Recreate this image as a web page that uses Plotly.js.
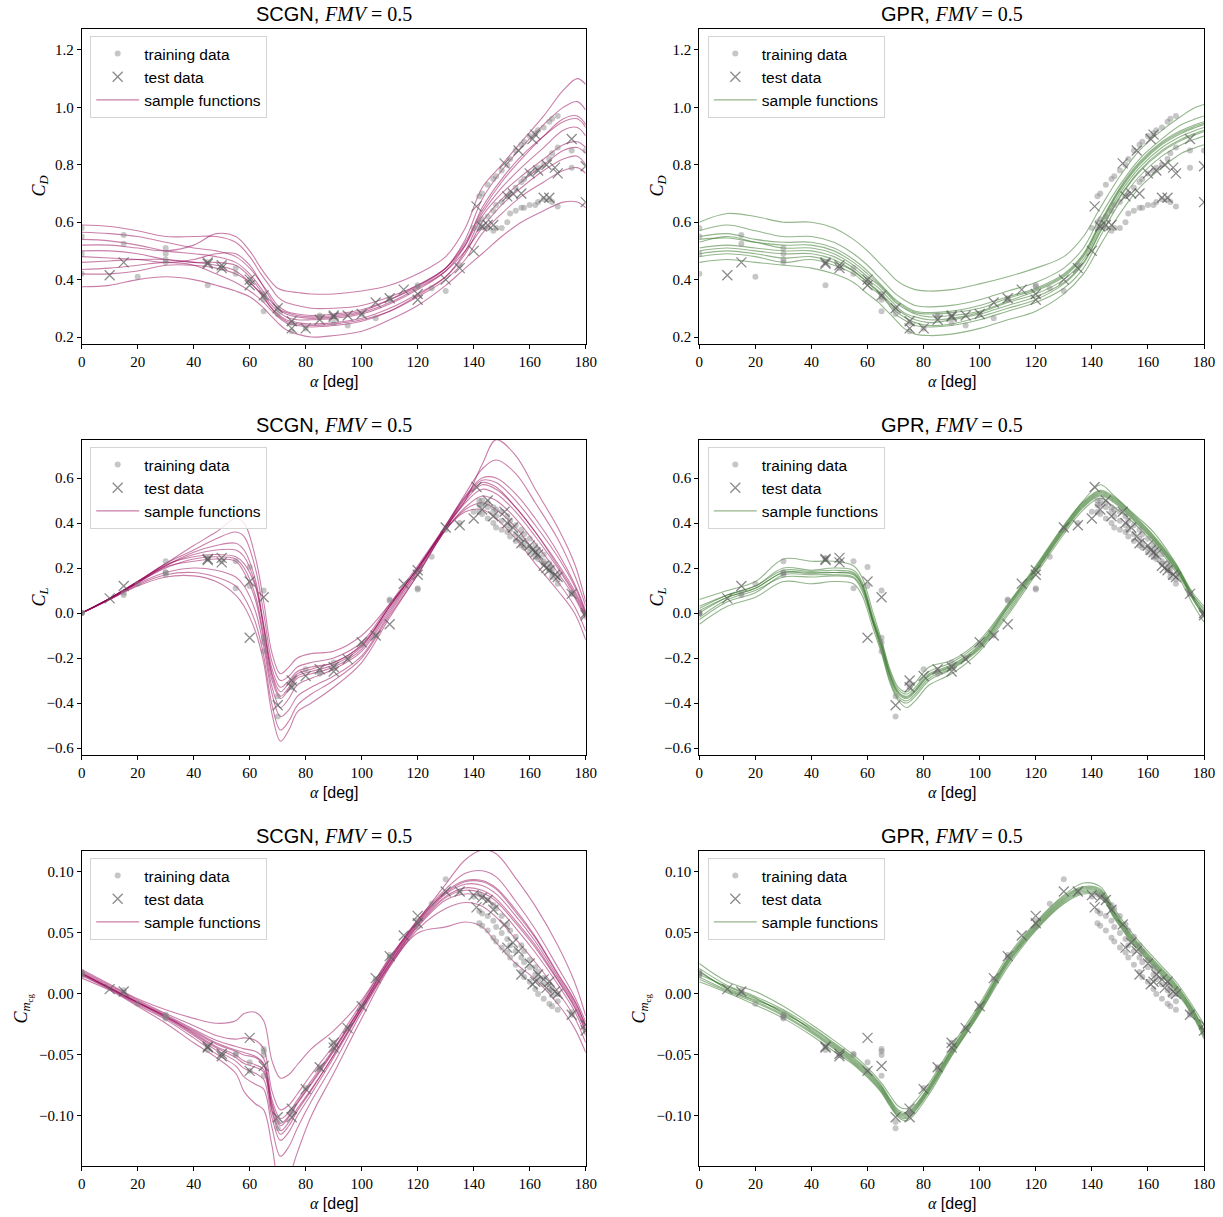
<!DOCTYPE html>
<html><head><meta charset="utf-8">
<script src="https://cdn.plot.ly/plotly-3.0.1.min.js"></script>
<style>html,body{margin:0;padding:0;background:#fff}</style>
</head><body><div id="chart" style="width:1223px;height:1217px"></div>
<script>
// ---------------- data ----------------
const xTicks = [0,20,40,60,80,100,120,140,160,180];

// training data (low / mid alpha)
const lowAlpha = [0,0,0,0,15,15,20,30,30,30,30,45,45,50,55,55,60,60,65,65,65,65,70,70,75,75,80,85,85,90,90,95,100,105,110,110,120,120,125,130,135,140,175,175,180];
const lowCD = [0.58,0.55,0.49,0.42,0.555,0.525,0.41,0.51,0.49,0.47,0.46,0.38,0.46,0.44,0.42,0.44,0.40,0.39,0.29,0.34,0.35,0.33,0.28,0.30,0.22,0.25,0.23,0.275,0.27,0.25,0.27,0.24,0.28,0.265,0.33,0.335,0.38,0.375,0.37,0.36,0.45,0.58,0.79,0.85,0.85];
const lowCL = [0,0,0,0,0.08,0.09,0.13,0.23,0.17,0.18,0.18,0.245,0.24,0.23,0.23,0.11,0.205,0.12,0.10,-0.11,-0.13,-0.17,-0.37,-0.46,-0.31,-0.33,-0.25,-0.26,-0.27,-0.22,-0.24,-0.20,-0.14,-0.10,0.06,0.055,0.11,0.105,0.25,0.37,0.40,0.45,0.085,0.09,0.0];
const lowCm = [0.018,0.016,0.017,0.015,0.003,0.001,-0.008,-0.018,-0.020,-0.017,-0.019,-0.046,-0.043,-0.050,-0.049,-0.050,-0.056,-0.063,-0.045,-0.047,-0.050,-0.067,-0.105,-0.110,-0.098,-0.096,-0.077,-0.060,-0.062,-0.046,-0.040,-0.028,-0.010,0.012,0.032,0.030,0.060,0.055,0.074,0.094,0.084,0.080,-0.017,-0.015,-0.030];

// training data (dense high-alpha sweeps, three series)
const denseAlpha = [142,143,145,147,148,150,152,153,155,157,158,160,162,163,165,167,168,170];
const denseCD_A = [0.69,0.70,0.73,0.75,0.76,0.78,0.80,0.82,0.85,0.87,0.88,0.90,0.91,0.92,0.93,0.95,0.96,0.97];
const denseCD_B = [0.60,0.61,0.62,0.64,0.66,0.67,0.69,0.70,0.72,0.74,0.75,0.77,0.78,0.79,0.80,0.82,0.84,0.86];
const denseCD_C = [0.58,0.585,0.58,0.57,0.58,0.58,0.60,0.63,0.64,0.65,0.65,0.66,0.66,0.67,0.68,0.68,0.67,0.655];
const denseCL_A = [0.50,0.50,0.49,0.47,0.46,0.45,0.43,0.41,0.39,0.37,0.35,0.33,0.30,0.28,0.26,0.22,0.20,0.17];
const denseCL_B = [0.48,0.48,0.47,0.45,0.43,0.41,0.39,0.37,0.35,0.33,0.31,0.29,0.27,0.25,0.23,0.20,0.18,0.15];
const denseCL_C = [0.45,0.44,0.42,0.40,0.38,0.37,0.36,0.34,0.32,0.30,0.29,0.27,0.25,0.24,0.22,0.19,0.16,0.13];
const denseCm_A = [0.082,0.080,0.077,0.073,0.070,0.064,0.057,0.052,0.047,0.040,0.035,0.028,0.022,0.018,0.013,0.008,0.004,0.000];
const denseCm_B = [0.068,0.066,0.064,0.060,0.055,0.050,0.045,0.040,0.035,0.030,0.026,0.022,0.016,0.012,0.008,0.003,-0.001,-0.006];
const denseCm_C = [0.058,0.056,0.052,0.046,0.043,0.038,0.034,0.030,0.024,0.018,0.014,0.010,0.004,0.000,-0.004,-0.008,-0.010,-0.013];

// test data
const testAlpha = [10,15,45,45,50,50,60,60,65,70,75,75,80,85,90,90,95,100,105,110,115,120,120,130,135,140,141,143,145,147,151,152,154,156,157,160,161,162,163,165,166,167,169,170,175,180,180];
const testCD = [0.415,0.46,0.46,0.455,0.45,0.44,0.40,0.38,0.345,0.30,0.255,0.23,0.23,0.26,0.275,0.27,0.275,0.28,0.32,0.335,0.365,0.35,0.33,0.40,0.44,0.50,0.655,0.585,0.59,0.59,0.805,0.69,0.70,0.85,0.70,0.77,0.89,0.905,0.78,0.685,0.80,0.685,0.79,0.77,0.89,0.67,0.795];
const testCL = [0.065,0.12,0.24,0.235,0.245,0.225,0.14,-0.11,0.07,-0.41,-0.30,-0.33,-0.28,-0.25,-0.24,-0.26,-0.205,-0.13,-0.10,-0.05,0.13,0.19,0.17,0.38,0.39,0.42,0.56,0.46,0.50,0.43,0.45,0.40,0.38,0.34,0.31,0.30,0.28,0.27,0.26,0.21,0.20,0.19,0.17,0.16,0.085,0.00,-0.01];
const testCm = [0.004,0.002,-0.043,-0.044,-0.049,-0.051,-0.036,-0.063,-0.059,-0.101,-0.094,-0.101,-0.078,-0.060,-0.040,-0.044,-0.028,-0.010,0.013,0.031,0.048,0.064,0.058,0.084,0.084,0.081,0.071,0.079,0.077,0.069,0.057,0.038,0.042,0.035,0.016,0.025,0.008,0.010,0.016,0.012,0.005,0.010,0.002,0.000,-0.017,-0.025,-0.030];

// sample-function grids
const gridCD = [0,10,20,30,40,48,55,60,64,67,70,73,77,82,90,100,110,120,130,137,143,150,157,165,172,177,180];
const gridCL = [0,10,20,30,40,48,55,58,62,65,68,71,74,77,82,90,100,110,120,130,137,143,148,155,162,170,176,180];
const gridCm = gridCL;

// SCGN sample functions, C_D
const scgnCD = [
[0.59,0.585,0.57,0.55,0.55,0.55,0.53,0.48,0.42,0.38,0.34,0.32,0.31,0.30,0.30,0.31,0.34,0.38,0.44,0.53,0.64,0.74,0.82,0.90,0.96,0.97,0.94],
[0.375,0.38,0.40,0.41,0.40,0.38,0.36,0.34,0.31,0.28,0.25,0.225,0.21,0.20,0.205,0.22,0.26,0.31,0.38,0.44,0.49,0.55,0.60,0.64,0.67,0.67,0.65],
[0.52,0.52,0.51,0.50,0.52,0.56,0.55,0.50,0.44,0.40,0.37,0.36,0.355,0.35,0.35,0.36,0.38,0.42,0.48,0.58,0.72,0.80,0.88,0.97,1.06,1.10,1.08],
[0.46,0.465,0.47,0.47,0.46,0.45,0.43,0.39,0.35,0.31,0.28,0.26,0.25,0.245,0.25,0.265,0.30,0.35,0.41,0.49,0.60,0.68,0.74,0.80,0.85,0.86,0.84],
[0.54,0.535,0.52,0.50,0.49,0.48,0.46,0.42,0.37,0.33,0.30,0.285,0.275,0.27,0.275,0.29,0.33,0.38,0.44,0.52,0.63,0.72,0.79,0.86,0.92,0.93,0.90],
[0.42,0.42,0.43,0.45,0.45,0.44,0.42,0.39,0.35,0.31,0.275,0.255,0.245,0.24,0.245,0.26,0.29,0.34,0.40,0.47,0.56,0.63,0.69,0.74,0.78,0.79,0.77],
[0.50,0.50,0.49,0.47,0.46,0.46,0.45,0.41,0.36,0.32,0.29,0.27,0.26,0.26,0.265,0.28,0.315,0.365,0.43,0.52,0.65,0.75,0.83,0.90,0.95,0.96,0.93],
[0.565,0.56,0.55,0.53,0.51,0.50,0.48,0.44,0.39,0.35,0.31,0.29,0.28,0.275,0.28,0.295,0.33,0.375,0.44,0.54,0.68,0.78,0.86,0.94,1.00,1.02,0.99],
[0.48,0.475,0.47,0.46,0.47,0.49,0.49,0.45,0.39,0.34,0.30,0.28,0.27,0.265,0.27,0.285,0.32,0.37,0.43,0.50,0.58,0.66,0.72,0.78,0.82,0.83,0.80],
[0.435,0.44,0.45,0.46,0.45,0.42,0.39,0.36,0.33,0.30,0.27,0.25,0.24,0.235,0.24,0.255,0.29,0.345,0.41,0.50,0.62,0.70,0.76,0.82,0.87,0.88,0.86]
];
// GPR sample functions, C_D
const gprCD = [
[0.60,0.63,0.62,0.60,0.60,0.58,0.54,0.50,0.46,0.43,0.40,0.38,0.365,0.36,0.365,0.385,0.41,0.44,0.48,0.55,0.65,0.76,0.85,0.92,0.97,1.00,1.01],
[0.46,0.47,0.46,0.45,0.44,0.42,0.39,0.35,0.32,0.29,0.26,0.23,0.21,0.205,0.21,0.23,0.26,0.29,0.35,0.42,0.52,0.63,0.72,0.79,0.84,0.86,0.87],
[0.55,0.56,0.54,0.53,0.53,0.51,0.47,0.43,0.39,0.36,0.33,0.31,0.29,0.285,0.29,0.31,0.34,0.37,0.42,0.49,0.60,0.72,0.81,0.88,0.92,0.94,0.95],
[0.50,0.51,0.50,0.49,0.49,0.47,0.43,0.39,0.36,0.33,0.30,0.28,0.26,0.25,0.26,0.28,0.31,0.34,0.39,0.46,0.57,0.69,0.78,0.85,0.89,0.91,0.92],
[0.53,0.55,0.53,0.51,0.51,0.49,0.45,0.41,0.38,0.35,0.32,0.30,0.28,0.27,0.275,0.29,0.325,0.36,0.41,0.48,0.59,0.71,0.80,0.87,0.91,0.93,0.94],
[0.48,0.49,0.48,0.46,0.47,0.45,0.42,0.38,0.35,0.32,0.28,0.26,0.24,0.235,0.24,0.26,0.29,0.32,0.37,0.44,0.55,0.67,0.76,0.83,0.87,0.89,0.90],
[0.57,0.59,0.57,0.55,0.55,0.53,0.49,0.45,0.41,0.38,0.35,0.33,0.31,0.305,0.31,0.33,0.36,0.39,0.44,0.51,0.62,0.73,0.82,0.89,0.94,0.96,0.97],
[0.51,0.52,0.51,0.50,0.50,0.48,0.44,0.40,0.37,0.34,0.31,0.285,0.27,0.26,0.265,0.285,0.32,0.35,0.40,0.47,0.58,0.70,0.79,0.86,0.90,0.92,0.93],
[0.49,0.50,0.49,0.475,0.48,0.46,0.43,0.39,0.355,0.325,0.29,0.27,0.25,0.24,0.245,0.27,0.30,0.33,0.385,0.455,0.565,0.685,0.775,0.845,0.885,0.905,0.915],
[0.54,0.545,0.53,0.52,0.52,0.50,0.46,0.42,0.385,0.355,0.325,0.305,0.285,0.28,0.285,0.30,0.335,0.365,0.415,0.485,0.595,0.715,0.805,0.875,0.915,0.935,0.945]
];
// SCGN sample functions, C_L
const scgnCL = [
[0,0.065,0.14,0.22,0.30,0.36,0.42,0.40,0.25,0.05,-0.18,-0.27,-0.24,-0.20,-0.18,-0.17,-0.10,0.04,0.20,0.38,0.50,0.66,0.77,0.70,0.55,0.38,0.22,0.05],
[0,0.06,0.12,0.16,0.165,0.14,0.08,0.03,-0.08,-0.22,-0.45,-0.57,-0.52,-0.44,-0.40,-0.33,-0.22,-0.02,0.17,0.37,0.45,0.46,0.42,0.33,0.22,0.10,0.00,-0.12],
[0,0.065,0.135,0.20,0.24,0.25,0.24,0.20,0.08,-0.10,-0.30,-0.38,-0.34,-0.29,-0.27,-0.24,-0.16,0.02,0.19,0.38,0.50,0.57,0.55,0.47,0.36,0.22,0.10,0.0],
[0,0.065,0.135,0.21,0.27,0.30,0.31,0.28,0.15,-0.05,-0.25,-0.33,-0.30,-0.26,-0.24,-0.22,-0.14,0.03,0.20,0.39,0.52,0.60,0.60,0.53,0.42,0.27,0.13,0.01],
[0,0.06,0.13,0.18,0.20,0.19,0.16,0.12,0.01,-0.15,-0.36,-0.46,-0.43,-0.37,-0.33,-0.28,-0.19,0.0,0.18,0.37,0.47,0.52,0.50,0.42,0.31,0.18,0.07,-0.03],
[0,0.065,0.14,0.215,0.25,0.26,0.25,0.22,0.12,-0.07,-0.28,-0.37,-0.33,-0.28,-0.26,-0.23,-0.15,0.03,0.20,0.38,0.51,0.58,0.56,0.47,0.36,0.21,0.09,-0.01],
[0,0.065,0.14,0.22,0.28,0.33,0.36,0.34,0.20,0.0,-0.22,-0.30,-0.28,-0.24,-0.22,-0.20,-0.13,0.04,0.21,0.39,0.53,0.64,0.68,0.62,0.49,0.33,0.17,0.03],
[0,0.06,0.125,0.17,0.18,0.16,0.12,0.07,-0.04,-0.19,-0.41,-0.52,-0.48,-0.41,-0.36,-0.30,-0.20,-0.01,0.17,0.37,0.46,0.49,0.46,0.38,0.27,0.14,0.03,-0.08],
[0,0.065,0.135,0.205,0.23,0.24,0.23,0.18,0.06,-0.12,-0.33,-0.42,-0.38,-0.32,-0.29,-0.25,-0.17,0.01,0.19,0.38,0.49,0.55,0.53,0.45,0.34,0.20,0.08,-0.02],
[0,0.065,0.14,0.21,0.26,0.28,0.28,0.25,0.13,-0.06,-0.27,-0.35,-0.31,-0.27,-0.25,-0.22,-0.145,0.03,0.20,0.385,0.515,0.59,0.58,0.50,0.39,0.25,0.12,0.0]
];
// GPR sample functions, C_L
const gprCL = [
[0.06,0.10,0.14,0.24,0.23,0.23,0.21,0.16,0.0,-0.12,-0.25,-0.33,-0.35,-0.31,-0.24,-0.21,-0.12,0.04,0.21,0.39,0.50,0.57,0.52,0.44,0.36,0.22,0.09,0.03],
[-0.05,0.03,0.07,0.14,0.13,0.14,0.13,0.08,-0.07,-0.18,-0.31,-0.39,-0.42,-0.39,-0.32,-0.27,-0.17,-0.01,0.17,0.35,0.46,0.51,0.47,0.40,0.31,0.18,0.04,-0.04],
[0.0,0.07,0.11,0.18,0.18,0.18,0.17,0.12,-0.04,-0.15,-0.28,-0.36,-0.38,-0.35,-0.28,-0.24,-0.15,0.02,0.19,0.37,0.48,0.53,0.50,0.42,0.33,0.20,0.07,0.0],
[0.02,0.08,0.12,0.19,0.185,0.19,0.18,0.13,-0.03,-0.14,-0.27,-0.35,-0.37,-0.34,-0.27,-0.23,-0.14,0.03,0.20,0.38,0.49,0.54,0.51,0.43,0.34,0.21,0.08,0.01],
[-0.02,0.06,0.10,0.16,0.16,0.165,0.155,0.10,-0.05,-0.17,-0.30,-0.38,-0.40,-0.37,-0.30,-0.25,-0.16,0.0,0.18,0.36,0.47,0.52,0.49,0.41,0.32,0.19,0.06,-0.01],
[0.03,0.08,0.12,0.20,0.19,0.20,0.19,0.14,-0.02,-0.13,-0.26,-0.34,-0.36,-0.33,-0.26,-0.22,-0.13,0.035,0.205,0.385,0.495,0.545,0.515,0.435,0.345,0.215,0.08,0.02],
[-0.03,0.05,0.09,0.17,0.17,0.17,0.16,0.11,-0.045,-0.16,-0.29,-0.37,-0.39,-0.36,-0.29,-0.245,-0.155,0.01,0.185,0.365,0.475,0.525,0.495,0.415,0.325,0.195,0.065,-0.02],
[0.01,0.07,0.11,0.18,0.175,0.18,0.175,0.125,-0.035,-0.145,-0.275,-0.355,-0.375,-0.345,-0.275,-0.235,-0.145,0.025,0.195,0.375,0.485,0.535,0.505,0.425,0.335,0.205,0.07,0.0]
];
// SCGN sample functions, C_m,cg
const scgnCm = [
[0.020,0.008,-0.004,-0.013,-0.020,-0.024,-0.022,-0.016,-0.015,-0.022,-0.055,-0.069,-0.066,-0.058,-0.045,-0.030,-0.005,0.030,0.060,0.090,0.110,0.118,0.115,0.095,0.072,0.040,0.010,-0.018],
[0.013,0.003,-0.010,-0.024,-0.040,-0.052,-0.065,-0.080,-0.090,-0.095,-0.125,-0.16,-0.15,-0.13,-0.10,-0.065,-0.02,0.022,0.050,0.055,0.059,0.055,0.042,0.025,0.012,-0.008,-0.028,-0.048],
[0.017,0.005,-0.007,-0.018,-0.032,-0.043,-0.050,-0.055,-0.058,-0.062,-0.095,-0.112,-0.105,-0.094,-0.078,-0.050,-0.012,0.025,0.057,0.080,0.087,0.085,0.078,0.060,0.040,0.012,-0.010,-0.030],
[0.018,0.006,-0.006,-0.017,-0.029,-0.038,-0.043,-0.045,-0.047,-0.053,-0.087,-0.102,-0.097,-0.087,-0.071,-0.045,-0.009,0.028,0.060,0.083,0.092,0.092,0.086,0.067,0.046,0.016,-0.006,-0.026],
[0.016,0.004,-0.008,-0.020,-0.034,-0.046,-0.055,-0.061,-0.065,-0.070,-0.102,-0.120,-0.113,-0.100,-0.082,-0.052,-0.013,0.024,0.055,0.077,0.082,0.080,0.072,0.054,0.034,0.008,-0.014,-0.034],
[0.017,0.005,-0.007,-0.019,-0.031,-0.041,-0.047,-0.050,-0.052,-0.058,-0.092,-0.108,-0.101,-0.090,-0.074,-0.047,-0.010,0.027,0.058,0.082,0.090,0.089,0.082,0.064,0.043,0.014,-0.008,-0.028],
[0.019,0.007,-0.005,-0.016,-0.026,-0.034,-0.037,-0.036,-0.038,-0.045,-0.080,-0.095,-0.091,-0.082,-0.066,-0.042,-0.007,0.029,0.061,0.086,0.099,0.101,0.096,0.076,0.053,0.022,-0.002,-0.023],
[0.015,0.004,-0.009,-0.021,-0.036,-0.049,-0.059,-0.068,-0.074,-0.078,-0.110,-0.133,-0.125,-0.110,-0.088,-0.057,-0.015,0.023,0.053,0.070,0.075,0.072,0.063,0.045,0.026,0.002,-0.019,-0.040],
[0.017,0.005,-0.007,-0.018,-0.030,-0.040,-0.046,-0.048,-0.051,-0.057,-0.090,-0.106,-0.100,-0.089,-0.073,-0.046,-0.010,0.027,0.059,0.084,0.093,0.093,0.087,0.069,0.047,0.017,-0.005,-0.026],
[0.016,0.005,-0.007,-0.019,-0.033,-0.044,-0.052,-0.057,-0.060,-0.064,-0.097,-0.115,-0.108,-0.096,-0.079,-0.050,-0.012,0.025,0.056,0.079,0.085,0.083,0.076,0.058,0.038,0.011,-0.011,-0.031]
];
// GPR sample functions, C_m,cg
const gprCm = [
[0.025,0.010,0.002,-0.010,-0.025,-0.038,-0.050,-0.056,-0.065,-0.073,-0.083,-0.092,-0.094,-0.088,-0.073,-0.043,-0.008,0.031,0.059,0.081,0.091,0.088,0.070,0.048,0.030,0.010,-0.010,-0.025],
[0.010,0.001,-0.009,-0.020,-0.034,-0.047,-0.058,-0.064,-0.073,-0.081,-0.092,-0.101,-0.104,-0.098,-0.082,-0.051,-0.016,0.022,0.052,0.074,0.082,0.080,0.062,0.040,0.022,0.002,-0.018,-0.037],
[0.018,0.005,-0.004,-0.015,-0.029,-0.042,-0.054,-0.060,-0.069,-0.077,-0.088,-0.097,-0.099,-0.093,-0.077,-0.047,-0.012,0.027,0.056,0.078,0.086,0.084,0.066,0.044,0.026,0.006,-0.014,-0.031],
[0.021,0.007,-0.002,-0.013,-0.027,-0.040,-0.052,-0.058,-0.067,-0.075,-0.086,-0.095,-0.097,-0.091,-0.075,-0.045,-0.010,0.029,0.058,0.080,0.088,0.086,0.068,0.046,0.028,0.008,-0.012,-0.029],
[0.014,0.003,-0.006,-0.017,-0.031,-0.044,-0.056,-0.062,-0.071,-0.079,-0.090,-0.099,-0.101,-0.095,-0.079,-0.049,-0.014,0.025,0.054,0.076,0.084,0.082,0.064,0.042,0.024,0.004,-0.016,-0.034],
[0.016,0.006,-0.003,-0.016,-0.028,-0.041,-0.053,-0.059,-0.068,-0.076,-0.087,-0.096,-0.098,-0.092,-0.076,-0.046,-0.011,0.028,0.057,0.079,0.087,0.085,0.067,0.045,0.027,0.007,-0.013,-0.030],
[0.019,0.004,-0.005,-0.014,-0.030,-0.043,-0.055,-0.061,-0.070,-0.078,-0.089,-0.098,-0.100,-0.094,-0.078,-0.048,-0.013,0.026,0.055,0.077,0.085,0.083,0.065,0.043,0.025,0.005,-0.015,-0.033],
[0.012,0.002,-0.007,-0.018,-0.032,-0.045,-0.057,-0.063,-0.072,-0.080,-0.091,-0.100,-0.102,-0.096,-0.080,-0.050,-0.015,0.024,0.053,0.075,0.083,0.081,0.063,0.041,0.023,0.003,-0.017,-0.035]
];

// assembled training arrays
const trainAlpha = lowAlpha.concat(denseAlpha, denseAlpha, denseAlpha);
const trainCD = lowCD.concat(denseCD_A, denseCD_B, denseCD_C);
const trainCL = lowCL.concat(denseCL_A, denseCL_B, denseCL_C);
const trainCm = lowCm.concat(denseCm_A, denseCm_B, denseCm_C);

// ---------------- layout ----------------
const W = 1223, H = 1217;
const colPx = [[81.7, 585.7], [699.3, 1204]];
const rowPx = [[29, 344], [440, 755], [851, 1166]];
const SERIF = 'Liberation Serif, DejaVu Serif, serif';
const SANS = 'Liberation Sans, DejaVu Sans, sans-serif';
const colorSCGN = 'rgba(150,0,85,0.5)';
const colorGPR = 'rgba(40,110,25,0.5)';

const rows = [
  {grid: gridCD, samples: [scgnCD, gprCD], train: trainCD, test: testCD, range: [0.1756, 1.273], dtick: 0.2, fmt: '.1f',
   ylab: '<i>C</i><sub><i>D</i></sub>', ylabX: [40, 658]},
  {grid: gridCL, samples: [scgnCL, gprCL], train: trainCL, test: testCL, range: [-0.631, 0.769], dtick: 0.2, fmt: '.1f',
   ylab: '<i>C</i><sub><i>L</i></sub>', ylabX: [40, 658]},
  {grid: gridCm, samples: [scgnCm, gprCm], train: trainCm, test: testCm, range: [-0.141, 0.1172], dtick: 0.05, fmt: '.2f',
   ylab: '<i>C</i><sub><i>m</i><sub>cg</sub></sub>', ylabX: [22, 640]}
];
const models = ['SCGN', 'GPR'];
const colors = [colorSCGN, colorGPR];

const traces = [];
const layout = {
  width: W, height: H, margin: {l: 0, r: 0, t: 0, b: 0},
  paper_bgcolor: '#fff', plot_bgcolor: '#fff', showlegend: true,
  annotations: []
};

rows.forEach((R, r) => {
  [0, 1].forEach(c => {
    const idx = r * 2 + c + 1;
    const xa = idx === 1 ? 'x' : 'x' + idx;
    const ya = idx === 1 ? 'y' : 'y' + idx;
    const lg = idx === 1 ? 'legend' : 'legend' + idx;
    // sample functions
    R.samples[c].forEach((curve, k) => {
      traces.push({
        type: 'scatter', mode: 'lines', x: R.grid, y: curve, xaxis: xa, yaxis: ya,
        line: {color: colors[c], width: 1.1, shape: 'spline', smoothing: 1},
        name: 'sample functions', showlegend: k === 0, legend: lg, legendrank: 3,
        legendgroup: 'sf' + idx, hoverinfo: 'skip'
      });
    });
    traces.push({
      type: 'scatter', mode: 'markers', x: trainAlpha, y: R.train, xaxis: xa, yaxis: ya,
      marker: {color: 'rgba(128,128,128,0.45)', size: 6, line: {width: 0}},
      name: 'training data', legend: lg, legendrank: 1, hoverinfo: 'skip'
    });
    traces.push({
      type: 'scatter', mode: 'markers', x: testAlpha, y: R.test, xaxis: xa, yaxis: ya,
      marker: {symbol: 'x-thin', size: 10, color: 'rgba(90,90,90,0.7)', line: {width: 1.3, color: 'rgba(90,90,90,0.7)'}},
      name: 'test data', legend: lg, legendrank: 2, hoverinfo: 'skip'
    });

    const xd = [colPx[c][0] / W, colPx[c][1] / W];
    const yd = [1 - rowPx[r][1] / H, 1 - rowPx[r][0] / H];
    const axKeyX = idx === 1 ? 'xaxis' : 'xaxis' + idx;
    const axKeyY = idx === 1 ? 'yaxis' : 'yaxis' + idx;
    layout[axKeyX] = {
      domain: xd, anchor: ya, range: [0, 180], tickvals: xTicks, ticks: 'outside', ticklen: 4, tickwidth: 1,
      tickcolor: '#000', showline: true, linecolor: '#000', linewidth: 1, mirror: true, showgrid: false,
      zeroline: false, tickfont: {family: SERIF, size: 15, color: '#000'}
    };
    layout[axKeyY] = {
      domain: yd, anchor: xa, range: R.range, dtick: R.dtick, tick0: 0, tickformat: R.fmt, ticks: 'outside',
      ticklen: 4, tickwidth: 1, tickcolor: '#000', showline: true, linecolor: '#000', linewidth: 1, mirror: true,
      showgrid: false, zeroline: false, tickfont: {family: SERIF, size: 15, color: '#000'}
    };
    layout[lg] = {
      x: (colPx[c][0] + 8.5) / W, y: 1 - (rowPx[r][0] + 7) / H, xanchor: 'left', yanchor: 'top',
      bgcolor: 'rgba(255,255,255,0.8)', bordercolor: '#d4d4d4', borderwidth: 1,
      font: {family: SANS, size: 15.5, color: '#000'}, tracegroupgap: 0, itemwidth: 43
    };
    const cx = (colPx[c][0] + colPx[c][1]) / 2 / W;
    // title
    layout.annotations.push({
      xref: 'paper', yref: 'paper', x: cx, y: 1 - (rowPx[r][0] - 15) / H, xanchor: 'center', yanchor: 'middle',
      showarrow: false, font: {family: SANS, size: 20, color: '#000'},
      text: models[c] + ', <span style="font-family:Liberation Serif"><i>FMV</i> = 0.5</span>'
    });
    // x label
    layout.annotations.push({
      xref: 'paper', yref: 'paper', x: cx, y: 1 - (rowPx[r][1] + 37) / H, xanchor: 'center', yanchor: 'middle',
      showarrow: false, font: {family: SANS, size: 16, color: '#000'},
      text: '<span style="font-family:Liberation Serif"><i>α</i></span> [deg]'
    });
    // y label
    layout.annotations.push({
      xref: 'paper', yref: 'paper', x: R.ylabX[c] / W, y: 1 - (rowPx[r][0] + rowPx[r][1]) / 2 / H,
      xanchor: 'center', yanchor: 'middle', textangle: -90, showarrow: false,
      font: {family: SERIF, size: 18, color: '#000'}, text: R.ylab
    });
  });
});

Plotly.newPlot('chart', traces, layout, {displayModeBar: false, staticPlot: true});
</script></body></html>
